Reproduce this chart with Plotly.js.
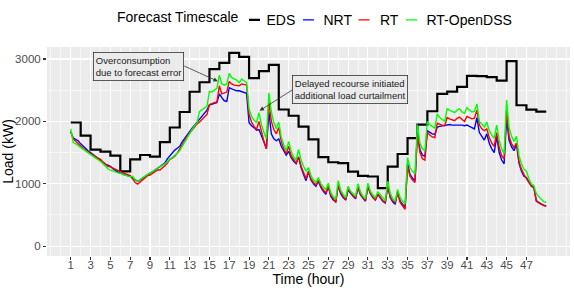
<!DOCTYPE html>
<html>
<head>
<meta charset="utf-8">
<script src="https://cdn.plot.ly/plotly-3.0.1.min.js"></script>
<style>html,body{margin:0;padding:0;background:#fff;}#chart{width:574px;height:288px;}</style>
</head>
<body>
<div id="chart"></div>
<script>
// ---- data ----
const edsHours = [1,2,3,4,5,6,7,8,9,10,11,12,13,14,15,16,17,18,19,20,21,22,23,24,25,26,27,28,29,30,31,32,33,34,35,36,37,38,39,40,41,42,43,44,45,46,47,48];
const edsLoad = [1982,1770,1547,1516,1450,1197,1390,1461,1435,1668,1902,2150,2475,2627,2836,2937,3099,3033,2694,2805,2907,2190,2090,1915,1710,1426,1345,1330,1195,1126,1116,929,1273,1477,1730,1949,2162,2441,2476,2552,2730,2725,2710,2654,2964,2258,2187,2157];
const edsEndHour = 49;

// quarter-hour samples from hour 1 to hour 49
const nrtLoad = [
1830,1730,1710,1690, 1640,1600,1560,1530, 1500,1470,1440,1410, 1380,1340,1310,1300,
1280,1240,1210,1190, 1170,1150,1140,1130, 1120,1090,1060,1040, 1060,1090,1120,1150,
1170,1190,1220,1250, 1270,1300,1330,1400, 1450,1500,1540,1570, 1600,1670,1730,1790,
1840,1890,1940,1990, 2030,2080,2130,2180, 2260,2280,2290,2300, 2440,2380,2330,2320,
2540,2520,2500,2490, 2490,2480,2460,2450, 1980,1930,1900,1860, 1870,1780,1670,1560,
2150,1800,1720,1690, 1720,1600,1520,1460, 1520,1420,1360,1320, 1430,1260,1150,1050,
1190,1060,1000,960, 1040,940,880,830, 950,800,740,710, 970,840,780,740,
900,840,800,760, 940,820,760,720, 950,840,780,740, 830,770,720,690,
960,780,710,670, 880,720,660,620, 1320,1150,1090,1050, 1850,1550,1460,1440,
1850,1820,1800,1790, 1910,1920,1930,1930, 1950,1950,1940,1940, 1940,1950,1940,1930,
1940,1920,1900,1880, 2060,1820,1760,1700, 1800,1650,1560,1500, 1760,1500,1380,1320,
2040,1700,1590,1530, 1640,1330,1200,1120, 1100,1020,960,940, 730,700,670,655,
645];
const rtLoad = [
1840,1720,1680,1640, 1610,1570,1540,1510, 1490,1460,1430,1410, 1390,1350,1310,1280,
1270,1250,1230,1210, 1195,1175,1160,1145, 1130,1080,1020,995, 1030,1070,1110,1130,
1140,1170,1200,1220, 1220,1250,1290,1330, 1390,1410,1440,1490, 1550,1620,1690,1760,
1810,1860,1920,1960, 1990,2030,2070,2110, 2270,2290,2300,2310, 2570,2440,2450,2470,
2640,2600,2580,2570, 2570,2600,2590,2580, 2110,1990,1920,1870, 2000,1820,1680,1560,
2320,2000,1870,1800, 1900,1680,1560,1480, 1600,1450,1380,1330, 1430,1280,1180,1080,
1200,1080,1020,980, 1060,960,900,850, 960,820,760,700, 980,860,800,740,
920,860,810,770, 950,830,770,730, 960,850,790,740, 840,780,730,700,
970,800,730,700, 850,700,640,590, 1280,1120,1060,1020, 1800,1500,1400,1380,
1830,1780,1750,1740, 1970,1950,1940,1930, 2060,2040,2030,2010, 2050,2070,2030,2000,
2080,2060,2040,2050, 2180,1940,1880,1850, 1880,1740,1650,1600, 1820,1580,1450,1400,
2190,1760,1640,1580, 1650,1350,1230,1150, 1080,1020,970,950, 720,690,670,650,
640];
const rtOpenDSSLoad = [
1880,1660,1640,1610, 1580,1550,1520,1490, 1470,1440,1410,1385, 1360,1320,1280,1240,
1220,1210,1190,1175, 1170,1150,1135,1120, 1110,1120,1060,1040, 1070,1100,1120,1150,
1170,1190,1220,1250, 1270,1290,1320,1350, 1400,1420,1460,1500, 1530,1600,1670,1750,
1820,1870,1930,1980, 2160,2190,2210,2240, 2480,2470,2500,2530, 2740,2600,2580,2600,
2770,2700,2680,2660, 2620,2680,2650,2620, 2200,2080,2020,1980, 2140,1950,1820,1720,
2460,2150,1980,1880, 1990,1750,1620,1530, 1680,1520,1430,1380, 1550,1380,1280,1200,
1260,1130,1060,1020, 1100,1000,950,900, 1010,860,790,750, 1050,900,830,780,
960,880,840,800, 1000,870,800,760, 1010,880,820,780, 870,820,770,730,
1040,850,760,720, 910,780,720,680, 1420,1260,1200,1160, 1950,1650,1560,1530,
2000,1950,1920,1890, 2120,2060,2030,2000, 2200,2180,2160,2140, 2180,2200,2150,2130,
2220,2180,2150,2160, 2280,2000,1950,1910, 1990,1850,1780,1730, 1940,1700,1560,1480,
2340,1900,1760,1680, 1760,1450,1320,1230, 1200,1080,1000,970, 840,790,750,715,
700];

const seriesNames = ['EDS','NRT','RT','RT-OpenDSS'];
const xTickVals = [1,3,5,7,9,11,13,15,17,19,21,23,25,27,29,31,33,35,37,39,41,43,45,47];
const xTickText = ['1','3','5','7','9','11','13','15','17','19','21','23','25','27','29','31','33','35','37','39','41','43','45','47'];
const yTickVals = [0,1000,2000,3000];
const yTickText = ['0','1000','2000','3000'];
const annoText1 = 'Overconsumption<br>due to forecast error';
const annoText2 = 'Delayed recourse initiated<br>additional load curtailment';

// ---- build ----
const quarterTime = [];
for (let i = 0; i < nrtLoad.length; i++) quarterTime.push(1 + i * 0.25);
const edsX = edsHours.concat([edsEndHour]);
const edsY = edsLoad.concat([edsLoad[edsLoad.length - 1]]);
const xMinor = [];
for (let h = -1; h <= 51; h++) xMinor.push(h);

const traces = [
  {x: edsX, y: edsY, name: seriesNames[0], mode: 'lines', line: {color: '#000000', width: 2.2, shape: 'hv'}},
  {x: quarterTime, y: nrtLoad, name: seriesNames[1], mode: 'lines', line: {color: '#0000FF', width: 1.4}},
  {x: quarterTime, y: rtLoad, name: seriesNames[2], mode: 'lines', line: {color: '#FF0000', width: 1.4}},
  {x: quarterTime, y: rtOpenDSSLoad, name: seriesNames[3], mode: 'lines', line: {color: '#00FF00', width: 1.4}}
];

const layout = {
  width: 574, height: 288,
  margin: {l: 47, r: 4, t: 36, b: 32},
  paper_bgcolor: '#FFFFFF', plot_bgcolor: '#EBEBEB',
  font: {family: 'Liberation Sans, Arial, sans-serif', color: '#000'},
  showlegend: true,
  legend: {
    orientation: 'h', x: 0.51, xanchor: 'center', y: 1.128, yanchor: 'middle',
    title: {text: 'Forecast Timescale', side: 'left', font: {size: 14, color: '#000'}},
    font: {size: 14, color: '#000'}, itemwidth: 30, bgcolor: 'rgba(0,0,0,0)'
  },
  xaxis: {
    range: [-1.4, 51.4], tickmode: 'array', tickvals: xTickVals, ticktext: xTickText,
    ticks: 'outside', ticklen: 3, tickwidth: 1.1, tickcolor: '#333333',
    tickfont: {size: 11.5, color: '#4D4D4D'}, ticklabelstandoff: -5,
    showgrid: true, gridcolor: '#FFFFFF', gridwidth: 1.1, zeroline: false, showline: false,
    minor: {tickmode: 'array', tickvals: xMinor, showgrid: true, gridcolor: '#FFFFFF', gridwidth: 0.6, ticks: ''},
    title: {text: 'Time (hour)', font: {size: 14, color: '#000'}, standoff: 0}
  },
  yaxis: {
    range: [-158, 3192], tickmode: 'array', tickvals: yTickVals, ticktext: yTickText,
    ticks: 'outside', ticklen: 3, tickwidth: 1.1, tickcolor: '#333333',
    tickfont: {size: 11.5, color: '#4D4D4D'},
    showgrid: true, gridcolor: '#FFFFFF', gridwidth: 1.1, zeroline: false, showline: false,
    minor: {tickmode: 'array', tickvals: [500,1500,2500], showgrid: true, gridcolor: '#FFFFFF', gridwidth: 0.6, ticks: ''},
    title: {text: 'Load (kW)', font: {size: 14, color: '#000'}, standoff: 3}
  },
  annotations: [
    {xref: 'x', yref: 'y', x: 7.8, y: 2875, text: annoText1, showarrow: false, align: 'left',
     font: {size: 9.5, color: '#1A1A1A'}, bgcolor: '#EBEBEB', bordercolor: '#333333', borderwidth: 0.8, borderpad: 2},
    {xref: 'x', yref: 'y', x: 15.84, y: 2643, axref: 'x', ayref: 'y', ax: 12.31, ay: 2898, text: '',
     showarrow: true, arrowhead: 2, arrowsize: 1.1, arrowwidth: 0.8, arrowcolor: '#333333'},
    {xref: 'x', yref: 'y', x: 29.15, y: 2505, text: annoText2, showarrow: false, align: 'left',
     font: {size: 9.5, color: '#1A1A1A'}, bgcolor: '#EBEBEB', bordercolor: '#333333', borderwidth: 0.8, borderpad: 2},
    {xref: 'x', yref: 'y', x: 20.06, y: 2171, axref: 'x', ayref: 'y', ax: 23.5, ay: 2517, text: '',
     showarrow: true, arrowhead: 2, arrowsize: 1.1, arrowwidth: 0.8, arrowcolor: '#333333'}
  ]
};

// compact legend spacing like the reference (page pixel targets)
const legendTitleLeft = 117;
const legendKeyLeft = [249, 303, 358.5, 406];
const legendKeyLen = 11;
const legendTextLeft = [266.5, 323.5, 380, 426.5];

function shiftTextTo(el, left) {
  const r = el.getBoundingClientRect();
  const dx = left - r.left;
  const x = parseFloat(el.getAttribute('x') || '0');
  el.setAttribute('x', x + dx);
  el.querySelectorAll('tspan[x]').forEach(ts => ts.setAttribute('x', parseFloat(ts.getAttribute('x')) + dx));
}

function tuneLegend() {
  const root = document.getElementById('chart');
  const title = root.querySelector('.legendtitletext');
  if (title) shiftTextTo(title, legendTitleLeft);
  root.querySelectorAll('.legend .traces').forEach((g, i) => {
    const t = g.querySelector('.legendtext');
    if (t) shiftTextTo(t, legendTextLeft[i]);
    const p = g.querySelector('.legendlines path');
    if (p) {
      const r = p.getBoundingClientRect();
      const m = /M([-\d.]+),([-\d.]+)/.exec(p.getAttribute('d'));
      if (m) {
        const x0 = parseFloat(m[1]) + (legendKeyLeft[i] - r.left);
        p.setAttribute('d', 'M' + x0 + ',' + m[2] + 'h' + legendKeyLen);
      }
    }
  });
}

Plotly.newPlot('chart', traces, layout, {displayModeBar: false, staticPlot: true}).then(tuneLegend);
</script>
</body>
</html>
